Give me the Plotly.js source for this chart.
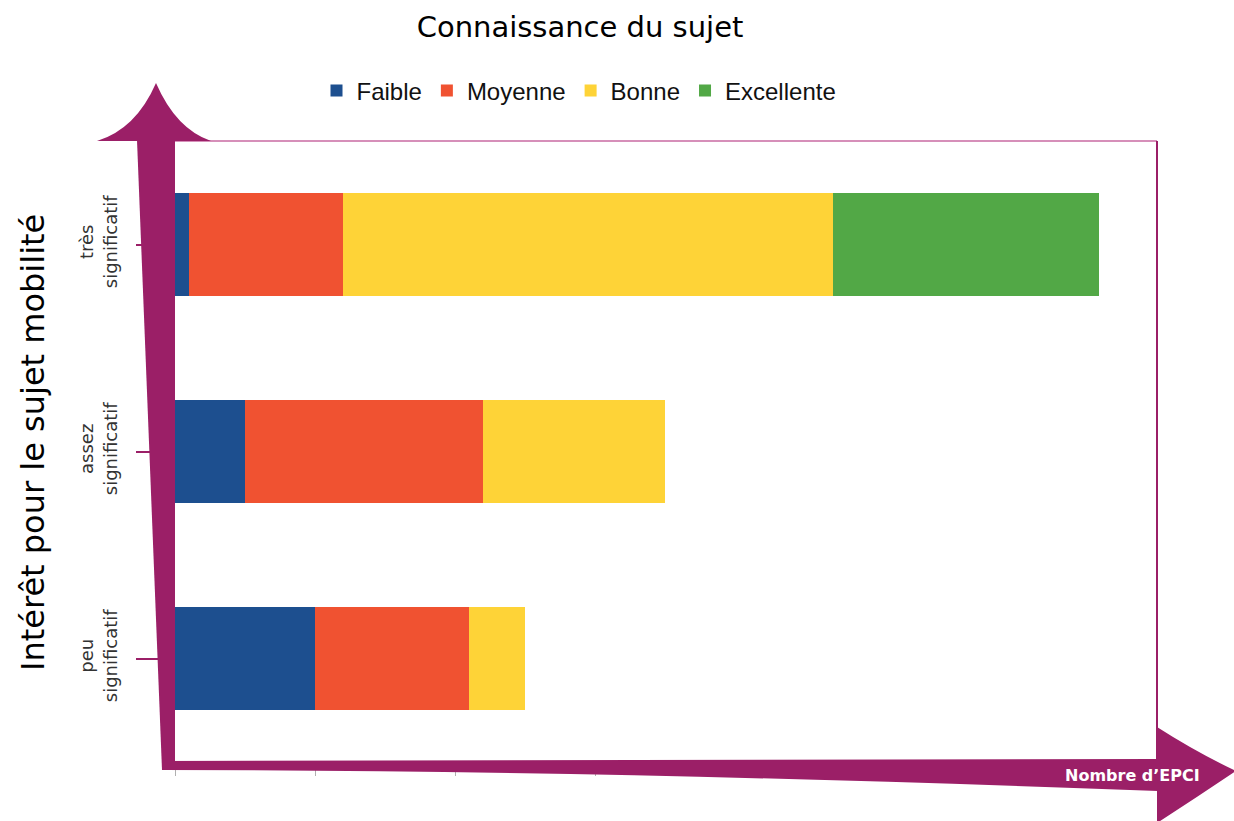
<!DOCTYPE html>
<html>
<head>
<meta charset="utf-8">
<script src="https://cdn.plot.ly/plotly-3.0.1.min.js"></script>
<style>html,body{margin:0;padding:0;background:#fff;}#chart{width:1234px;height:821px;}</style>
</head>
<body>
<div id="chart"></div>
<script>
// ---- data ----
const categories = ['peu<br>significatif', 'assez<br>significatif', 'très<br>significatif'];
const seriesNames = ['Faible', 'Moyenne', 'Bonne', 'Excellente'];
const faible = [10, 5, 1];
const moyenne = [11, 17, 11];
const bonne = [4, 13, 35];
const excellente = [0, 0, 19];
const xTickValues = [0, 10, 20, 30, 40, 50, 60, 70];

const colors = ['#1d4f8f', '#f05231', '#fed337', '#52a846'];
const purple = '#9b1f67';

// plot area in pixels
const L = 175, R = 1157, T = 141, B = 762;
const W = R - L, H = B - T;
function px(x) { return (x - L) / W; }
function py(y) { return (B - y) / H; }
function P(x, y) { return px(x).toFixed(5) + ',' + py(y).toFixed(5); }

const values = [faible, moyenne, bonne, excellente];
const traces = values.map((v, i) => ({
  type: 'bar',
  orientation: 'h',
  name: seriesNames[i],
  y: categories,
  x: v,
  width: 0.5,
  marker: {color: colors[i], line: {width: 0}},
  hoverinfo: 'x+name'
}));

const vShaft = 'M' + P(175,140) + ' L' + P(175,770) + ' L' + P(162,770) + ' L' + P(137,140) + ' Z';
const vHead = 'M' + P(97,141) + ' Q' + P(136,129) + ' ' + P(156,83) + ' Q' + P(176,129) + ' ' + P(211,141) + ' Z';
const hShaft = 'M' + P(162,761) + ' L' + P(1158,759) + ' L' + P(1158,791) + ' Q' + P(600,770) + ' ' + P(162,770) + ' Z';
const hHead = 'M' + P(1157,727) + ' Q' + P(1196,752) + ' ' + P(1236,771) + ' Q' + P(1196,798) + ' ' + P(1157,823) + ' Z';

const shapes = [
  {type:'line', xref:'paper', yref:'paper', x0:0, x1:1, y0:1, y1:1, line:{color:'#d68fb9', width:2}, layer:'above'},
  {type:'line', xref:'paper', yref:'paper', x0:1, x1:1, y0:1, y1:py(760), line:{color:purple, width:2}, layer:'above'},
  {type:'path', xref:'paper', yref:'paper', path:vShaft, fillcolor:purple, line:{width:0}, layer:'above'},
  {type:'path', xref:'paper', yref:'paper', path:vHead, fillcolor:purple, line:{width:0}, layer:'above'},
  {type:'path', xref:'paper', yref:'paper', path:hShaft, fillcolor:purple, line:{width:0}, layer:'above'},
  {type:'path', xref:'paper', yref:'paper', path:hHead, fillcolor:purple, line:{width:0}, layer:'above'}
];

const layout = {
  width: 1234, height: 821,
  margin: {l: L, r: 1234 - R, t: T, b: 821 - B, pad: 0},
  paper_bgcolor: '#fff', plot_bgcolor: '#fff',
  barmode: 'stack',
  showlegend: true,
  title: {
    text: 'Connaissance du sujet',
    font: {family: 'DejaVu Sans', size: 29, color: '#000'},
    xref: 'paper', x: px(580), xanchor: 'center',
    yref: 'container', y: 1 - 27 / 821, yanchor: 'middle'
  },
  legend: {
    orientation: 'h',
    x: px(579), xanchor: 'center',
    y: py(91), yanchor: 'middle',
    font: {family: 'Liberation Sans', size: 24, color: '#111'},
    itemwidth: 30,
    traceorder: 'normal',
    bgcolor: 'rgba(0,0,0,0)'
  },
  xaxis: {
    range: [0, 70.14],
    tickmode: 'array', tickvals: xTickValues,
    showticklabels: false,
    ticks: 'outside', ticklen: 13, tickwidth: 1, tickcolor: '#b0b0b0',
    showgrid: false, zeroline: false, showline: false, fixedrange: true
  },
  yaxis: {
    type: 'category',
    categoryorder: 'array', categoryarray: categories,
    range: [-0.5, 2.5],
    ticks: 'outside', ticklen: 38, tickwidth: 2, tickcolor: purple,
    tickangle: -90,
    ticklabelstandoff: 12,
    tickfont: {family: 'DejaVu Sans', size: 18, color: '#333'},
    showgrid: false, zeroline: false, showline: false, fixedrange: true
  },
  shapes: shapes,
  annotations: [
    {
      xref: 'paper', yref: 'paper', x: px(33), y: py(443),
      text: 'Intérêt pour le sujet mobilité', textangle: -90,
      showarrow: false, xanchor: 'center', yanchor: 'middle',
      font: {family: 'DejaVu Sans', size: 32, color: '#000'}
    },
    {
      xref: 'paper', yref: 'paper', x: px(1132), y: py(775),
      text: '<b>Nombre d’EPCI</b>',
      showarrow: false, xanchor: 'center', yanchor: 'middle',
      font: {family: 'DejaVu Sans', size: 16, color: '#fff'}
    }
  ]
};

Plotly.newPlot('chart', traces, layout, {displayModeBar: false, staticPlot: true});
</script>
</body>
</html>
